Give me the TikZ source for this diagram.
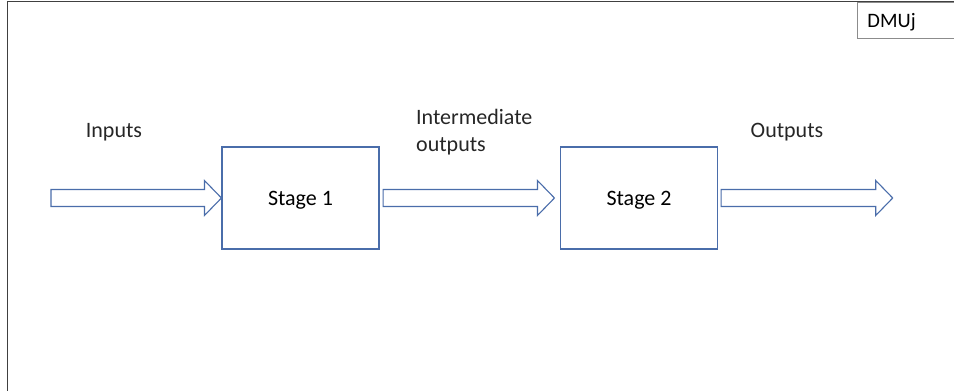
\documentclass[tikz,border=0pt]{standalone}
\usepackage{fontspec}
\setmainfont{Carlito}
\usetikzlibrary{positioning,calc}

\definecolor{boxblue}{HTML}{4A6DAA}
\definecolor{framegray}{HTML}{404040}
\definecolor{tabgray}{HTML}{8C8C8C}

% block arrow from a tail point to a tip point
\newcommand{\blockarrow}[2]{%
  \draw[fatarrow] let \p1=(#1), \p2=(#2) in
    (\x1,\y1+8.5pt) -- (\x2-17pt,\y1+8.5pt) -- (\x2-17pt,\y1+17.5pt) -- (\x2,\y1)
    -- (\x2-17pt,\y1-17.5pt) -- (\x2-17pt,\y1-8.5pt) -- (\x1,\y1-8.5pt) -- cycle;}

\begin{document}
\begin{tikzpicture}[x=1pt, y=-1pt,
            font=\fontsize{22}{27}\selectfont,
            stage/.style={rectangle, draw=boxblue, line width=1.1pt, minimum width=157pt, minimum height=102pt, inner sep=0pt, text depth=0pt},
            fatarrow/.style={draw=boxblue, line width=1.1pt, fill=white, line join=miter},
            lbl/.style={inner sep=0pt, text=black!85, text depth=0pt},
            tab/.style={draw=tabgray, line width=0.9pt, minimum height=36.5pt, text width=100pt, inner xsep=10pt, align=left, text depth=0pt, font=\fontsize{20.5}{24}\selectfont}]

            \useasboundingbox (0,0) rectangle (954,391);
            \clip (0,0) rectangle (954,391);

            % outer frame
            \draw[framegray, line width=1.2pt] (7.5,391) -- (7.5,1.5) -- (954,1.5);
            \node[tab, anchor=north west] (dmu) at (857,1.5) {DMUj};

            % Stages
            \node[stage] (s1) at (300.5,198) {Stage 1};
            \node[stage] (s2) at (639,198) {Stage 2};

            % Labels
            \node[lbl] (inLbl) at (114,130) {Inputs};
            \node[lbl, anchor=west, align=left, text depth=] (midLbl) at (416,132.5) {Intermediate\\outputs};
            \node[lbl] (outLbl) at (787,130) {Outputs};

            % Arrow ends
            \coordinate (inTail) at (51,198);
            \coordinate (midTail) at ($(s1.east)+(3.5,0)$);
            \coordinate (midTip) at ($(s2.west)+(-5.5,0)$);
            \coordinate (outTail) at ($(s2.east)+(3,0)$);
            \coordinate (outTip) at (892.7,198);

            % Block arrows
            \blockarrow{inTail}{s1.west}
            \blockarrow{midTail}{midTip}
            \blockarrow{outTail}{outTip}
        \end{tikzpicture}
\end{document}
